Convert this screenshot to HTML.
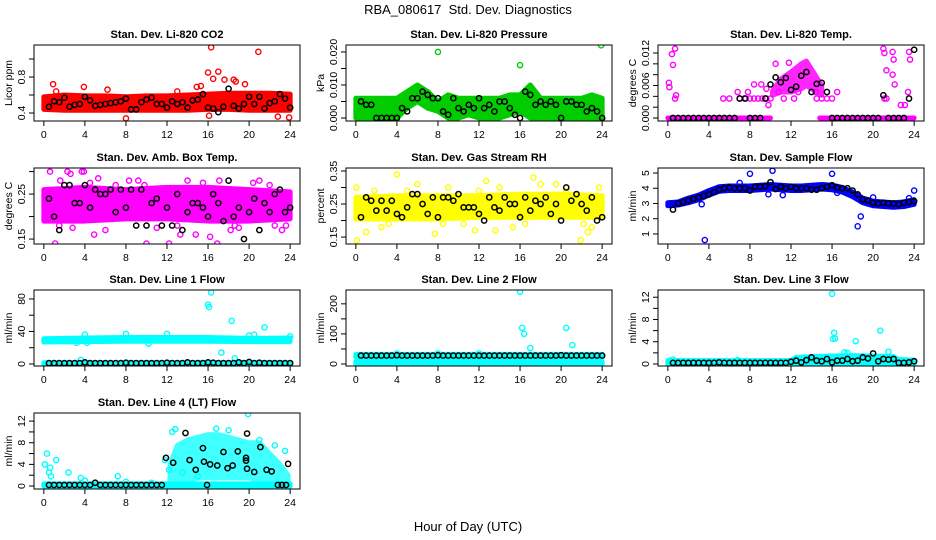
<!DOCTYPE html>
<html><head><meta charset="utf-8">
<style>
html,body{margin:0;padding:0;background:#fff;}
svg{display:block;font-family:"Liberation Sans",Arial,sans-serif;}
</style></head>
<body>
<svg id="chart" width="936" height="540" viewBox="0 0 936 540" xmlns="http://www.w3.org/2000/svg">
<text x="468" y="14" font-size="13" text-anchor="middle" xml:space="preserve">RBA_080617  Std. Dev. Diagnostics</text>
<text x="468" y="531" font-size="13" text-anchor="middle">Hour of Day (UTC)</text>
</svg>
<script>
// ---------- shared data ----------
const xTicks = [0,4,8,12,16,20,24];
const blackGridX = [0.5,1,1.5,2,2.5,3,3.5,4,4.5,5,5.5,6,6.5,7,7.5,8,8.5,9,9.5,10,10.5,11,11.5,12,12.5,13,13.5,14,14.5,15,15.5,16,16.5,17,17.5,18,18.5,19,19.5,20,20.5,21,21.5,22,22.5,23,23.5,24];

// CO2
const co2BandX = [0,2,4,6,8,10,12,14,16,18,20,22,24];
const co2BandLo = [0.44,0.43,0.43,0.43,0.43,0.43,0.43,0.43,0.44,0.44,0.43,0.43,0.43];
const co2BandHi = [0.58,0.60,0.59,0.59,0.58,0.59,0.59,0.60,0.61,0.62,0.62,0.62,0.61];
const co2Black = [0.47,0.53,0.52,0.57,0.47,0.49,0.50,0.58,0.54,0.48,0.49,0.50,0.51,0.52,0.53,0.56,0.44,0.44,0.52,0.55,0.57,0.50,0.50,0.46,0.53,0.50,0.52,0.46,0.54,0.55,0.61,0.46,0.45,0.41,0.47,0.67,0.48,0.45,0.50,0.58,0.50,0.58,0.45,0.51,0.53,0.61,0.56,0.46];
const co2OutX = [0.9,1.2,3.9,6.2,8,16,16.3,16.5,17,15.3,17.6,18.5,19.6,20.9,22.8,23.9,16.1,13,14.9,18.7];
const co2OutY = [0.72,0.64,0.69,0.66,0.34,0.85,1.13,0.78,0.86,0.70,0.77,0.77,0.72,1.08,0.36,0.35,0.37,0.64,0.69,0.75];

// Pressure
const presBandX = [0,1,2,3,4,5,6,7,8,9,10,11,12,13,14,15,16,17,18,19,20,21,22,23,24];
const presBandLo = [0,0,0,0,0,0.003,0.005,0.003,0.002,0,0,0.001,0,0,0,0.001,0.002,0,0,0,0,0,0,0,0];
const presBandHi = [0.006,0.006,0.006,0.006,0.006,0.008,0.010,0.008,0.005,0.007,0.006,0.006,0.006,0.006,0.006,0.007,0.007,0.010,0.006,0.006,0.006,0.006,0.006,0.007,0.006];
const presBlack = [0.005,0.004,0.004,0,0,0,0,0,0.003,0.002,0.006,0.006,0.008,0.007,0.006,0.006,0.002,0.001,0.006,0.003,0.002,0.004,0.003,0.006,0.003,0.004,0.002,0.005,0.005,0.003,0.001,0.000,0.008,0.007,0.004,0.005,0.004,0.005,0.004,0.000,0.005,0.005,0.004,0.004,0.002,0.003,0.002,0.000];
const presOutX = [8,16,23.9];
const presOutY = [0.020,0.016,0.022];

// Li-820 temp
const tempZero1X = [0,10];
const tempZero2X = [14.8,24];
const tempZeroLo = [0,0];
const tempZeroHi = [0,0];
const tempBandX = [10.2,11,12,13,13.5,14,15];
const tempBandLo = [0.0042,0.0048,0.0048,0.0054,0.0060,0.0054,0.0042];
const tempBandHi = [0.0050,0.0072,0.0085,0.0100,0.0105,0.0090,0.0060];
const tempMidX = [5.4,6,7,7.6,8,8.4,8.8,9.2,9.6,10,14.5,15,15.5,16];
const tempMidY = [0.0036,0.0036,0.0036,0.0036,0.0036,0.0036,0.0036,0.0036,0.0036,0.0036,0.0036,0.0036,0.0036,0.0036];
const tempBlack = [0,0,0,0,0,0,0,0,0,0,0,0,0,0.0036,0.0036,0,0,0,0.0036,0.0062,0.0075,0.0066,0.0074,0.0052,0.0058,0.0078,0.0085,0.0048,0.0063,0.0065,0.0048,0,0,0,0,0,0,0,0,0,0,0.0042,0,0,0,0,0.0036,0.0126];
const tempOutX = [0.1,0.15,0.4,0.5,0.7,0.8,0.7,21,21.1,21.3,21.9,22,21.9,22.1,22.7,23.1,23.5,23.6,23.4,21.1,21.3,6.8,7.8,8.4,10.5,11.8,9.8,16.5,9.1,9.6,10.8,11.3,12.3,12.7,14.4];
const tempOutY = [0.0065,0.0057,0.0118,0.0098,0.0128,0.0042,0.0036,0.0128,0.0120,0.0088,0.0122,0.0108,0.0080,0.0062,0.0024,0.0024,0.0122,0.0108,0.0048,0.0036,0.0036,0.0048,0.0048,0.0062,0.0100,0.0102,0.0024,0.0048,0.0062,0.0054,0.0048,0.0036,0.0036,0.0048,0.0048];

// Amb box temp
const ambBandX = [0,4,8,12,16,20,24];
const ambBandLo = [0.19,0.19,0.195,0.195,0.19,0.19,0.195];
const ambBandHi = [0.26,0.265,0.26,0.265,0.265,0.26,0.255];
const ambBlack = [0.24,0.20,0.17,0.27,0.27,0.23,0.23,0.27,0.22,0.26,0.25,0.25,0.26,0.21,0.26,0.22,0.26,0.18,0.26,0.18,0.23,0.24,0.18,0.22,0.18,0.25,0.17,0.21,0.23,0.23,0.22,0.20,0.25,0.23,0.19,0.28,0.20,0.22,0.15,0.21,0.24,0.17,0.23,0.21,0.25,0.26,0.21,0.22];
const ambOutX = [0.6,1.1,1.6,2.3,3.7,4.9,10,12.2,13.3,14.8,16.2,16.9,9.2,22.5,17.1,3.9,2.6,23.2,6,11,19,21,14,8.3,5.3,18.2,0.3,20.4,1.5,2.8,7,9.8,13,15.5,18.6,22,23.6,4.5];
const ambOutY = [0.30,0.14,0.28,0.30,0.30,0.16,0.14,0.14,0.16,0.16,0.155,0.14,0.28,0.18,0.28,0.30,0.295,0.17,0.17,0.175,0.175,0.28,0.28,0.28,0.285,0.17,0.2,0.275,0.18,0.175,0.27,0.27,0.18,0.275,0.18,0.27,0.18,0.275];

// RH
const rhBandX = [0,4,8,12,16,20,24];
const rhBandLo = [0.205,0.205,0.205,0.21,0.21,0.21,0.21];
const rhBandHi = [0.27,0.275,0.275,0.275,0.28,0.28,0.275];
const rhBlack = [0.21,0.27,0.26,0.23,0.26,0.23,0.26,0.22,0.21,0.24,0.28,0.28,0.25,0.22,0.27,0.21,0.27,0.27,0.26,0.28,0.24,0.24,0.24,0.22,0.20,0.27,0.24,0.23,0.27,0.25,0.25,0.21,0.27,0.23,0.26,0.25,0.27,0.22,0.25,0.20,0.30,0.26,0.28,0.25,0.23,0.27,0.20,0.21];
const rhOutX = [0.1,1,4,0.05,11.6,12.7,13.6,17.3,21.9,22.6,7.7,15.3,19.5,2.5,6,9,14,23,18,10.5,1.8,3.2,5,8.5,12,16.5,20.5,22.2,23.7];
const rhOutY = [0.14,0.165,0.34,0.30,0.17,0.32,0.17,0.33,0.14,0.165,0.16,0.18,0.31,0.18,0.31,0.30,0.30,0.18,0.31,0.19,0.29,0.19,0.29,0.19,0.29,0.19,0.29,0.19,0.3];

// Sample flow
const flowBandX = [0,1,2,3,4,5,6,7,8,9,10,11,12,13,14,15,16,17,18,19,20,21,22,23,24];
const flowBandLo = [2.85,2.9,3.05,3.25,3.55,3.8,3.85,3.85,3.85,3.9,3.95,3.9,3.85,3.85,3.9,3.95,3.9,3.75,3.45,3.05,2.85,2.8,2.75,2.8,2.95];
const flowBandHi = [3.05,3.1,3.35,3.55,3.85,4.1,4.15,4.15,4.15,4.2,4.25,4.2,4.15,4.15,4.2,4.25,4.2,4.05,3.75,3.35,3.15,3.1,3.05,3.1,3.25];
const flowBlack = [2.6,3.0,3.1,3.2,3.3,3.4,3.5,3.6,3.75,3.9,4.0,4.05,4.0,4.0,4.0,3.85,4.1,4.1,4.15,4.4,3.95,4.1,4.0,4.1,4.0,4.0,4.0,3.9,3.9,4.0,4.1,4.2,4.05,4.0,4.0,3.85,3.6,3.25,3.2,3.05,3.0,3.05,3.0,3.0,2.95,3.05,3.1,3.15];
const flowOutX = [3.6,3.3,8,10.2,16,18.5,18.8,24,23.5,9.8,11.2,20,7,16.5];
const flowOutY = [0.6,2.95,4.95,5.15,4.95,1.5,2.15,3.85,3.35,3.6,3.55,3.4,4.35,3.7];

// Line 1 flow
const l1BandX = [0,4,8,12,16,20,24];
const l1BandLo = [27,27.5,28,28,28,27.5,27.5];
const l1BandHi = [31,32,32.5,32.5,32.5,31.5,32];
const l1BaseX = [0,24];
const l1BaseLo = [0,0];
const l1BaseHi = [1.5,1.5];
const l1Black = [1,1,1,1,1,1,1,2,1,1,1,1,1,1,1,1.5,1,1,1,1,1,1,1,1.5,1,1,1,2,1,1,1,2,1.5,1,1,1,1,2,1,2.5,1,1.5,1,1,1,1,1,1];
const l1OutX = [16,16.1,16.3,18.3,17.3,18.6,21.5,3.6,4,8,12,3.2,10.2,20.5,24,4.2,20];
const l1OutY = [73,70,88,53,14,7,45,5,36,37,37,26,25,36,34,26,35];

// Line 2 flow
const l2BandX = [0,24];
const l2BandLo = [0,0];
const l2BandHi = [8,8];
const l2TopX = [0,24];
const l2TopLo = [23,23];
const l2TopHi = [32,32];
const l2Black = [28,28,28,28,28,28,28,29,28,28,28,28,28,28,28,29,28,28,28,28,28,28,28,28,28,28,28,28,28,28,28,28,28,28,28,28,28,28,28,29,28,28,28,28,28,28,28,28];
const l2OutX = [16,16.2,16.4,17,20.5,21.1,4,8,12];
const l2OutY = [240,120,100,53,120,63,35,35,35];

// Line 3 flow
const l3BandX = [0,12,12.5,15,18,21,22,22.5,24];
const l3BandLo = [0,0,0,0,0,0,0,0,0];
const l3BandHi = [0.6,0.6,1.2,1.4,1.5,1.4,1.3,0.8,0.7];
const l3Black = [0.2,0.2,0.2,0.2,0.2,0.2,0.2,0.2,0.2,0.3,0.2,0.2,0.2,0.2,0.2,0.2,0.2,0.2,0.2,0.2,0.2,0.2,0.2,0.4,0.6,0.3,0.7,1.2,0.6,0.5,0.9,0.3,0.6,0.6,0.9,0.5,0.6,1.2,1.0,1.9,0.5,0.9,0.8,0.9,0.2,0.2,0.3,0.5];
const l3OutX = [16,16.2,16.1,16.3,18.3,20.7,21.5,17.2,0.2,0.5,6.8,17.5];
const l3OutY = [12.6,5.6,4.5,4.6,4.1,6.0,2.2,2.1,0.6,0.8,0.7,2.0];

// Line 4 (LT) flow
const l4BaseX = [0,24];
const l4BaseLo = [0,0];
const l4BaseHi = [0.4,0.4];
const l4CloudX = [12.3,13,14,15,16,17,18,19,20,21,22,23,23.8,23.8];
const l4CloudLo = [0,0,1,1.5,1.5,1.5,1.5,1.5,1.5,1,0.5,0,0,0];
const l4CloudHi = [4,7.5,8.5,9,9.5,9.5,9,8.5,8,8,6,4,2,0];
const l4BlackX = [0.5,1,1.5,2,2.5,3,3.5,4,4.5,5,5.5,6,6.5,7,7.5,8,8.5,9,9.5,10,10.5,11,11.5,11.9,12.6,13.8,14.2,14.8,15.5,15.6,15.9,16.2,16.9,17.5,17.9,18.4,18.9,19.7,19.7,19.8,19.8,20.5,21.1,21.7,22.2,22.8,23.2,23.6,23.8];
const l4BlackY = [0.2,0.2,0.2,0.2,0.2,0.2,0.2,0.2,0.2,0.6,0.2,0.2,0.2,0.2,0.2,0.2,0.2,0.2,0.2,0.2,0.2,0.2,0.2,5.2,4.3,9.8,4.8,3.0,7.0,4.5,0.2,4.0,3.8,6.3,3.3,3.8,6.4,5.2,4.7,9.7,3.2,2.6,7.2,3.0,2.7,0.2,0.2,0.2,4.1];
const l4OutX = [0.1,0.3,0.5,0.6,0.7,1.2,2.4,3.6,7.2,11.8,12.2,12.5,12.8,16.8,19.9,23.5,4,8,10.5,13.5,15,18,21,22.5];
const l4OutY = [4,6,2.5,3.4,1.8,4.8,2.5,1.5,1.8,4.8,3,10,10.5,10.6,13.3,6.5,1,0.8,0.6,2.5,1.8,10.3,8.5,7.5];

// ---------- rendering ----------
const svg = document.getElementById('chart');
const NS = 'http://www.w3.org/2000/svg';
const colX = [0,312,624];
const rowTop = [45,168,290,413];
const BOXH = 76;

function mk(tag, attrs, parent){
  const e = document.createElementNS(NS, tag);
  for (const k in attrs) e.setAttribute(k, attrs[k]);
  (parent||svg).appendChild(e);
  return e;
}

function drawPanel(p){
  const L = colX[p.col] + 34, R = colX[p.col] + 300;
  const T = rowTop[p.row], B = T + BOXH;
  const sx = v => L + 9.85 + v * (246.3 / 24);
  const sy = v => B - (v - p.yMin) / (p.yMax - p.yMin) * BOXH;
  const g = mk('g', {});
  
  
  const clipId = 'clip-' + p.name;
  const cp = mk('clipPath', {id: clipId}, g);
  mk('rect', {x: L, y: T, width: R - L, height: BOXH}, cp);
  const plot = mk('g', {'clip-path': 'url(#' + clipId + ')'}, g);
  
  

  (p.bands || []).forEach(b => {
    let pts = [];
    for (let i = 0; i < b.x.length; i++) pts.push(sx(b.x[i]) + ',' + sy(b.hi[i]));
    for (let i = b.x.length - 1; i >= 0; i--) pts.push(sx(b.x[i]) + ',' + sy(b.lo[i]));
    const poly = mk('polygon', {points: pts.join(' '), fill: p.color, stroke: p.color, 'stroke-width': 5, 'stroke-linejoin': 'round', opacity: b.op || 1}, plot);
    
    
  });
  (p.pts || []).forEach(s => {
    for (let i = 0; i < s.x.length; i++) {
      const c = mk('circle', {cx: sx(s.x[i]), cy: sy(s.y[i]), r: 2.6, fill: 'none', stroke: p.color, 'stroke-width': 1.4}, plot);
      
      
    }
  });
  for (let i = 0; i < p.bx.length; i++) {
    const c = mk('circle', {cx: sx(p.bx[i]), cy: sy(p.by[i]), r: 2.6, fill: 'none', stroke: '#000', 'stroke-width': 1.5}, plot);
    
    
  }

  const box = mk('rect', {x: L, y: T, width: R - L, height: BOXH, fill: 'none', stroke: '#000', 'stroke-width': 1}, g);
  
  

  const title = mk('text', {x: (L + R) / 2, y: T - 7, 'font-size': 11, 'font-weight': 'bold', 'text-anchor': 'middle'}, g);
  title.textContent = p.title;
  
  

  mk('line', {x1: sx(0), x2: sx(24), y1: B, y2: B, stroke: '#000'}, g);
  xTicks.forEach(v => {
    mk('line', {x1: sx(v), x2: sx(v), y1: B, y2: B + 5, stroke: '#000'}, g);
    const t = mk('text', {x: sx(v), y: B + 17, 'font-size': 10.5, 'text-anchor': 'middle'}, g);
    t.textContent = v;
    
    
  });
  mk('line', {x1: L, x2: L, y1: sy(p.yt[0]), y2: sy(p.yt[p.yt.length - 1]), stroke: '#000'}, g);
  p.yt.forEach((v, i) => {
    mk('line', {x1: L - 5, x2: L, y1: sy(v), y2: sy(v), stroke: '#000'}, g);
    if (p.yl[i] !== '') {
      const y = sy(v);
      const t = mk('text', {x: L - 9, y: y, 'font-size': 10.5, 'text-anchor': 'middle', transform: 'rotate(-90 ' + (L - 9) + ' ' + y + ')'}, g);
      t.textContent = p.yl[i];
      
      
    }
  });
  const yc = (T + B) / 2;
  const yt = mk('text', {x: L - 22, y: yc, 'font-size': 10.5, 'text-anchor': 'middle', transform: 'rotate(-90 ' + (L - 22) + ' ' + yc + ')'}, g);
  yt.textContent = p.ylab;
  
  
}

const panels = [
  {name:'co2', col:0,row:0,title:'Stan. Dev. Li-820 CO2',ylab:'Licor ppm',color:'#ff0000',yMin:0.311,yMax:1.156,
   yt:[0.4,0.6,0.8,1.0],yl:['0.4','','0.8',''],
   bands:[{x:co2BandX,lo:co2BandLo,hi:co2BandHi}],pts:[{x:co2OutX,y:co2OutY}],bx:blackGridX,by:co2Black},
  {name:'pressure', col:1,row:0,title:'Stan. Dev. Li-820 Pressure',ylab:'kPa',color:'#00cc00',yMin:-0.0009,yMax:0.0221,
   yt:[0,0.005,0.010,0.015,0.020],yl:['0.000','','0.010','','0.020'],
   bands:[{x:presBandX,lo:presBandLo,hi:presBandHi}],pts:[{x:presOutX,y:presOutY}],bx:blackGridX,by:presBlack},
  {name:'li820-temp', col:2,row:0,title:'Stan. Dev. Li-820 Temp.',ylab:'degrees C',color:'#ff00ff',yMin:-0.00055,yMax:0.01348,
   yt:[0,0.002,0.004,0.006,0.008,0.010,0.012],yl:['0.000','','','0.006','','','0.012'],
   bands:[{x:tempZero1X,lo:tempZeroLo,hi:tempZeroHi},{x:tempZero2X,lo:tempZeroLo,hi:tempZeroHi},{x:tempBandX,lo:tempBandLo,hi:tempBandHi,op:0.85}],
   pts:[{x:tempOutX,y:tempOutY},{x:tempMidX,y:tempMidY}],bx:blackGridX,by:tempBlack},
  {name:'amb-box-temp', col:0,row:1,title:'Stan. Dev. Amb. Box Temp.',ylab:'degrees C',color:'#ff00ff',yMin:0.139,yMax:0.308,
   yt:[0.15,0.20,0.25,0.30],yl:['0.15','','0.25',''],
   bands:[{x:ambBandX,lo:ambBandLo,hi:ambBandHi}],pts:[{x:ambOutX,y:ambOutY}],bx:blackGridX,by:ambBlack},
  {name:'gas-rh', col:1,row:1,title:'Stan. Dev. Gas Stream RH',ylab:'percent',color:'#ffff00',yMin:0.129,yMax:0.359,
   yt:[0.15,0.20,0.25,0.30,0.35],yl:['0.15','','0.25','','0.35'],
   bands:[{x:rhBandX,lo:rhBandLo,hi:rhBandHi}],pts:[{x:rhOutX,y:rhOutY}],bx:blackGridX,by:rhBlack},
  {name:'sample-flow', col:2,row:1,title:'Stan. Dev. Sample Flow',ylab:'ml/min',color:'#0000ff',yMin:0.34,yMax:5.33,
   yt:[1,2,3,4,5],yl:['1','2','3','4','5'],
   bands:[{x:flowBandX,lo:flowBandLo,hi:flowBandHi}],pts:[{x:flowOutX,y:flowOutY}],bx:blackGridX,by:flowBlack},
  {name:'line1-flow', col:0,row:2,title:'Stan. Dev. Line 1 Flow',ylab:'ml/min',color:'#00ffff',yMin:-2.5,yMax:91,
   yt:[0,20,40,60,80],yl:['0','','40','','80'],
   bands:[{x:l1BandX,lo:l1BandLo,hi:l1BandHi},{x:l1BaseX,lo:l1BaseLo,hi:l1BaseHi}],pts:[{x:l1OutX,y:l1OutY}],bx:blackGridX,by:l1Black},
  {name:'line2-flow', col:1,row:2,title:'Stan. Dev. Line 2 Flow',ylab:'ml/min',color:'#00ffff',yMin:-6.7,yMax:246,
   yt:[0,50,100,150,200],yl:['0','','100','','200'],
   bands:[{x:l2BandX,lo:l2BandLo,hi:l2BandHi},{x:l2TopX,lo:l2TopLo,hi:l2TopHi}],pts:[{x:l2OutX,y:l2OutY}],bx:blackGridX,by:l2Black},
  {name:'line3-flow', col:2,row:2,title:'Stan. Dev. Line 3 Flow',ylab:'ml/min',color:'#00ffff',yMin:-0.36,yMax:13.3,
   yt:[0,2,4,6,8,10,12],yl:['0','','4','','8','','12'],
   bands:[{x:l3BandX,lo:l3BandLo,hi:l3BandHi}],pts:[{x:l3OutX,y:l3OutY}],bx:blackGridX,by:l3Black},
  {name:'line4-flow', col:0,row:3,title:'Stan. Dev. Line 4 (LT) Flow',ylab:'ml/min',color:'#00ffff',yMin:-0.55,yMax:13.5,
   yt:[0,2,4,6,8,10,12],yl:['0','','4','','8','','12'],
   bands:[{x:l4CloudX,lo:l4CloudLo,hi:l4CloudHi,op:0.75},{x:l4BaseX,lo:l4BaseLo,hi:l4BaseHi}],pts:[{x:l4OutX,y:l4OutY}],bx:l4BlackX,by:l4BlackY}
];
panels.forEach(drawPanel);
</script>
</body></html>
